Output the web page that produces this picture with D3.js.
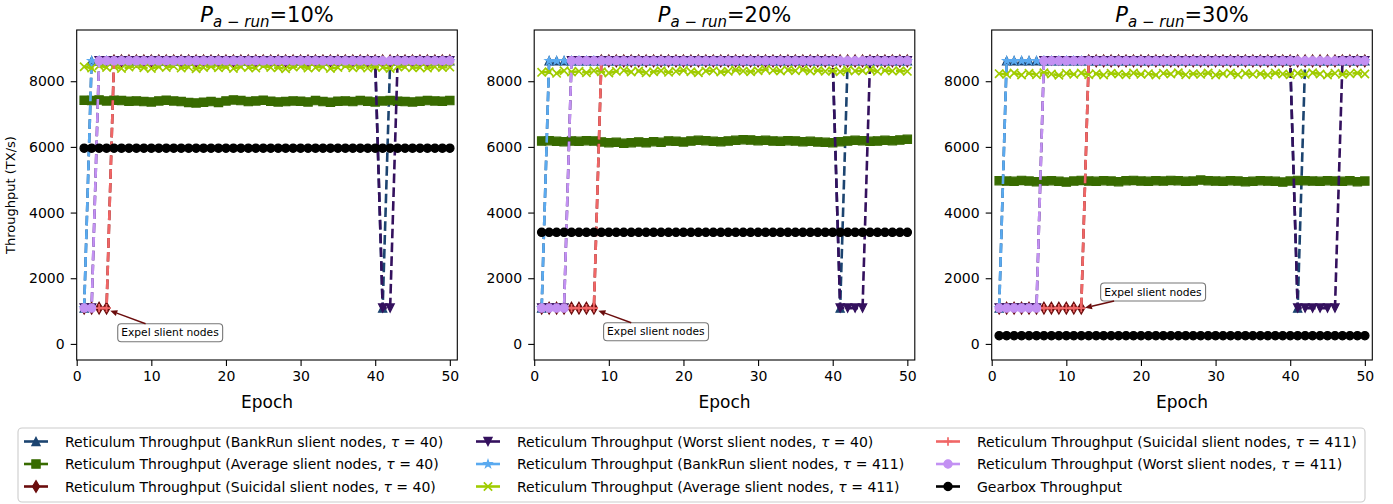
<!DOCTYPE html>
<html><head><meta charset="utf-8">
<script src="https://cdn.jsdelivr.net/npm/d3@7"></script>
<style>body{margin:0;background:#fff;} svg{display:block;font-family:"DejaVu Sans",sans-serif;}</style>
</head><body><svg id="c" width="1393" height="504"></svg>
<script>
// ---------------- DATA ----------------
const H = 8620, L = 1090;
const epochs = [1,2,3,4,5,6,7,8,9,10,11,12,13,14,15,16,17,18,19,20,21,22,23,24,25,26,27,28,29,30,31,32,33,34,35,36,37,38,39,40,41,42,43,44,45,46,47,48,49,50];
const panelTitles = ["10%", "20%", "30%"];
const xTicks = [0,10,20,30,40,50];
const yTicks = [0,2000,4000,6000,8000];
const seriesLabels = [
  ["BankRun", "40"], ["Average", "40"], ["Suicidal", "40"],
  ["Worst", "40"], ["BankRun", "411"], ["Average", "411"],
  ["Suicidal", "411"], ["Worst", "411"], null
];

// P = 10%
const bankrun40_10 = [L,H,H,H,H,H,H,H,H,H, H,H,H,H,H,H,H,H,H,H, H,H,H,H,H,H,H,H,H,H, H,H,H,H,H,H,H,H,H,H, L,H,H,H,H,H,H,H,H,H];
const avg40_10 = [7420,7410,7430,7400,7420,7410,7390,7400,7380,7370,7400,7420,7400,7380,7350,7340,7360,7380,7350,7400,7430,7410,7380,7400,7420,7390,7370,7380,7400,7390,7370,7410,7380,7360,7390,7400,7380,7410,7390,7370,7400,7410,7390,7380,7370,7390,7410,7400,7390,7410];
const suicidal40_10 = [L,L,L,L,H,H,H,H,H,H, H,H,H,H,H,H,H,H,H,H, H,H,H,H,H,H,H,H,H,H, H,H,H,H,H,H,H,H,H,H, H,H,H,H,H,H,H,H,H,H];
const worst40_10 = [L,L,H,H,H,H,H,H,H,H, H,H,H,H,H,H,H,H,H,H, H,H,H,H,H,H,H,H,H,H, H,H,H,H,H,H,H,H,H,H, L,L,H,H,H,H,H,H,H,H];
const bankrun411_10 = [L,H,H,H,H,H,H,H,H,H, H,H,H,H,H,H,H,H,H,H, H,H,H,H,H,H,H,H,H,H, H,H,H,H,H,H,H,H,H,H, H,H,H,H,H,H,H,H,H,H];
const avg411_10 = [8440,8400,8470,8420,8450,8390,8430,8460,8410,8390,8440,8420,8460,8400,8430,8380,8420,8450,8410,8430,8390,8440,8420,8400,8460,8420,8410,8380,8430,8450,8400,8420,8440,8390,8420,8460,8410,8430,8400,8440,8420,8390,8450,8430,8410,8420,8400,8440,8420,8430];
const suicidal411_10 = [L,L,L,L,H,H,H,H,H,H, H,H,H,H,H,H,H,H,H,H, H,H,H,H,H,H,H,H,H,H, H,H,H,H,H,H,H,H,H,H, H,H,H,H,H,H,H,H,H,H];
const worst411_10 = [L,L,H,H,H,H,H,H,H,H, H,H,H,H,H,H,H,H,H,H, H,H,H,H,H,H,H,H,H,H, H,H,H,H,H,H,H,H,H,H, H,H,H,H,H,H,H,H,H,H];
const gearbox_10 = [5960,5960,5960,5960,5960,5960,5960,5960,5960,5960, 5960,5960,5960,5960,5960,5960,5960,5960,5960,5960, 5960,5960,5960,5960,5960,5960,5960,5960,5960,5960, 5960,5960,5960,5960,5960,5960,5960,5960,5960,5960, 5960,5960,5960,5960,5960,5960,5960,5960,5960,5960];

// P = 20%
const bankrun40_20 = [L,H,H,H,H,H,H,H,H,H, H,H,H,H,H,H,H,H,H,H, H,H,H,H,H,H,H,H,H,H, H,H,H,H,H,H,H,H,H,H, L,H,H,H,H,H,H,H,H,H];
const avg40_20 = [6180,6190,6170,6160,6180,6170,6190,6180,6150,6130,6140,6110,6130,6150,6130,6160,6140,6180,6170,6150,6180,6200,6190,6170,6160,6180,6200,6220,6210,6190,6200,6180,6170,6190,6180,6160,6170,6150,6140,6130,6160,6180,6200,6190,6170,6180,6200,6190,6210,6230];
const suicidal40_20 = [L,L,L,L,L,L,L,L,H,H, H,H,H,H,H,H,H,H,H,H, H,H,H,H,H,H,H,H,H,H, H,H,H,H,H,H,H,H,H,H, H,H,H,H,H,H,H,H,H,H];
const worst40_20 = [L,L,L,L,H,H,H,H,H,H, H,H,H,H,H,H,H,H,H,H, H,H,H,H,H,H,H,H,H,H, H,H,H,H,H,H,H,H,H,H, L,L,L,L,H,H,H,H,H,H];
const bankrun411_20 = [L,H,H,H,H,H,H,H,H,H, H,H,H,H,H,H,H,H,H,H, H,H,H,H,H,H,H,H,H,H, H,H,H,H,H,H,H,H,H,H, H,H,H,H,H,H,H,H,H,H];
const avg411_20 = [8270,8290,8240,8320,8280,8300,8260,8320,8290,8250,8300,8330,8280,8310,8260,8290,8320,8270,8300,8330,8290,8260,8310,8320,8280,8300,8340,8310,8290,8320,8360,8330,8310,8340,8320,8350,8310,8330,8300,8320,8290,8340,8310,8320,8350,8300,8330,8310,8320,8300];
const suicidal411_20 = [L,L,L,L,L,L,L,L,H,H, H,H,H,H,H,H,H,H,H,H, H,H,H,H,H,H,H,H,H,H, H,H,H,H,H,H,H,H,H,H, H,H,H,H,H,H,H,H,H,H];
const worst411_20 = [L,L,L,L,H,H,H,H,H,H, H,H,H,H,H,H,H,H,H,H, H,H,H,H,H,H,H,H,H,H, H,H,H,H,H,H,H,H,H,H, H,H,H,H,H,H,H,H,H,H];
const gearbox_20 = [3400,3400,3400,3400,3400,3400,3400,3400,3400,3400, 3400,3400,3400,3400,3400,3400,3400,3400,3400,3400, 3400,3400,3400,3400,3400,3400,3400,3400,3400,3400, 3400,3400,3400,3400,3400,3400,3400,3400,3400,3400, 3400,3400,3400,3400,3400,3400,3400,3400,3400,3400];

// P = 30%
const bankrun40_30 = [L,H,H,H,H,H,H,H,H,H, H,H,H,H,H,H,H,H,H,H, H,H,H,H,H,H,H,H,H,H, H,H,H,H,H,H,H,H,H,H, L,H,H,H,H,H,H,H,H,H];
const avg40_30 = [4970,4960,4950,4980,4960,4940,4960,4970,4950,4930,4960,4980,4960,4950,4970,4960,4940,4970,4980,4960,4950,4970,4960,4980,4970,4950,4960,4990,4970,4960,4950,4970,4960,4940,4950,4970,4960,4950,4930,4960,4980,4970,4960,4950,4970,4960,4950,4970,4940,4960];
const suicidal40_30 = [L,L,L,L,L,L,L,L,L,L, L,L,H,H,H,H,H,H,H,H, H,H,H,H,H,H,H,H,H,H, H,H,H,H,H,H,H,H,H,H, H,H,H,H,H,H,H,H,H,H];
const worst40_30 = [L,L,L,L,L,L,H,H,H,H, H,H,H,H,H,H,H,H,H,H, H,H,H,H,H,H,H,H,H,H, H,H,H,H,H,H,H,H,H,H, L,L,L,L,L,L,H,H,H,H];
const bankrun411_30 = [L,H,H,H,H,H,H,H,H,H, H,H,H,H,H,H,H,H,H,H, H,H,H,H,H,H,H,H,H,H, H,H,H,H,H,H,H,H,H,H, H,H,H,H,H,H,H,H,H,H];
const avg411_30 = [8230,8210,8250,8190,8240,8200,8260,8220,8180,8240,8210,8250,8200,8230,8190,8240,8220,8200,8250,8210,8230,8190,8240,8220,8260,8200,8230,8210,8250,8190,8230,8250,8200,8240,8210,8230,8190,8250,8220,8200,8240,8210,8260,8220,8190,8240,8210,8230,8250,8220];
const suicidal411_30 = [L,L,L,L,L,L,L,L,L,L, L,L,H,H,H,H,H,H,H,H, H,H,H,H,H,H,H,H,H,H, H,H,H,H,H,H,H,H,H,H, H,H,H,H,H,H,H,H,H,H];
const worst411_30 = [L,L,L,L,L,L,H,H,H,H, H,H,H,H,H,H,H,H,H,H, H,H,H,H,H,H,H,H,H,H, H,H,H,H,H,H,H,H,H,H, H,H,H,H,H,H,H,H,H,H];
const gearbox_30 = [250,250,250,250,250,250,250,250,250,250, 250,250,250,250,250,250,250,250,250,250, 250,250,250,250,250,250,250,250,250,250, 250,250,250,250,250,250,250,250,250,250, 250,250,250,250,250,250,250,250,250,250];

const panelSeries = [
  [bankrun40_10, avg40_10, suicidal40_10, worst40_10, bankrun411_10, avg411_10, suicidal411_10, worst411_10, gearbox_10],
  [bankrun40_20, avg40_20, suicidal40_20, worst40_20, bankrun411_20, avg411_20, suicidal411_20, worst411_20, gearbox_20],
  [bankrun40_30, avg40_30, suicidal40_30, worst40_30, bankrun411_30, avg411_30, suicidal411_30, worst411_30, gearbox_30]
];
// annotation: arrow target and text centre (data coords)
const annotTarget = [[4.5, 1010], [8.6, 1010], [12.5, 1100]];
const annotText = [[12.5, 340], [16.3, 370], [21.6, 1580]];
const annotLabel = "Expel slient nodes";

// ---------------- STYLE ----------------
const colors = ["#1c4470", "#386b00", "#6b0d0d", "#34115e", "#5aaaf0", "#a0cc00", "#f06666", "#c391f3", "#000000"];
const markers = ["tri_up", "square", "thin_diamond", "tri_down", "star", "x", "plus", "circle", "circle"];
const dashed = [true, true, true, true, true, true, true, true, false];
const MS = 8.3, LW = 2.6;

const svg = d3.select("#c");
const panelLeft = [76.7, 534.2, 991.7];
const PW = 380.6, PT = 30, PB = 360;

function markerPath(type, ms) {
  const r = ms / 2;
  switch (type) {
    case "tri_up": return `M0,${-r}L${-r},${r}L${r},${r}Z`;
    case "tri_down": return `M0,${r}L${-r},${-r}L${r},${-r}Z`;
    case "square": return `M${-r},${-r}h${ms}v${ms}h${-ms}Z`;
    case "thin_diamond": { const hw = 0.424 * ms, hh = 0.707 * ms; return `M0,${-hh}L${hw},0L0,${hh}L${-hw},0Z`; }
    case "star": {
      let p = "";
      for (let i = 0; i < 10; i++) {
        const rr = i % 2 === 0 ? r : r * 0.382;
        const a = -Math.PI / 2 + i * Math.PI / 5;
        p += (i ? "L" : "M") + (rr * Math.cos(a)).toFixed(2) + "," + (rr * Math.sin(a)).toFixed(2);
      }
      return p + "Z";
    }
    case "x": return `M${-r},${-r}L${r},${r}M${-r},${r}L${r},${-r}`;
    case "plus": return `M${-r},0H${r}M0,${-r}V${r}`;
    default: return `M${r},0A${r},${r} 0 1,1 ${-r},0A${r},${r} 0 1,1 ${r},0Z`;
  }
}
const strokeOnly = t => t === "x" || t === "plus";

function drawMarker(g, type, color, cx, cy) {
  const p = g.append("path").attr("d", markerPath(type, MS)).attr("transform", `translate(${cx},${cy})`);
  if (strokeOnly(type)) p.attr("fill", "none").attr("stroke", color).attr("stroke-width", 1.7);
  else p.attr("fill", color).attr("stroke", color).attr("stroke-width", 1.2);
}

panelSeries.forEach((series, pi) => {
  const x0 = panelLeft[pi];
  const x = d3.scaleLinear().domain([0, 51]).range([x0, x0 + PW]);
  const y = d3.scaleLinear().domain([-490, 9560]).range([PB, PT]);
  const g = svg.append("g");

  const clipId = "clip" + pi;
  svg.append("clipPath").attr("id", clipId).append("rect")
    .attr("x", x0).attr("y", PT).attr("width", PW).attr("height", PB - PT);
  const plot = g.append("g").attr("clip-path", `url(#${clipId})`);

  const line = d3.line().x((d, i) => x(epochs[i])).y(d => y(d));
  series.forEach((vals, si) => {
    plot.append("path").attr("d", line(vals)).attr("fill", "none")
      .attr("stroke", colors[si]).attr("stroke-width", LW)
      .attr("stroke-dasharray", dashed[si] ? "9.6,4.2" : null);
    const mg = plot.append("g");
    vals.forEach((v, i) => drawMarker(mg, markers[si], colors[si], x(epochs[i]), y(v)));
  });

  // axes
  const ax = g.append("g").attr("transform", `translate(0,${PB})`)
    .call(d3.axisBottom(x).tickValues(xTicks).tickSize(6).tickPadding(5).tickFormat(d3.format("d")));
  const ay = g.append("g").attr("transform", `translate(${x0},0)`)
    .call(d3.axisLeft(y).tickValues(yTicks).tickSize(6).tickPadding(6).tickFormat(d3.format("d")));
  [ax, ay].forEach(a => {
    a.select(".domain").remove();
    a.selectAll("text").attr("font-size", 14).attr("font-family", "DejaVu Sans").attr("fill", "#000");
    a.selectAll("line").attr("stroke", "#000").attr("stroke-width", 1.1);
  });
  g.append("rect").attr("x", x0).attr("y", PT).attr("width", PW).attr("height", PB - PT)
    .attr("fill", "none").attr("stroke", "#000").attr("stroke-width", 1.1);

  // x label
  g.append("text").attr("x", x0 + PW / 2).attr("y", 408).attr("text-anchor", "middle")
    .attr("font-size", 17).text("Epoch");

  // title
  const t = g.append("text").attr("x", x0 + PW / 2).attr("y", 22).attr("text-anchor", "middle").attr("font-size", 21);
  t.append("tspan").attr("font-style", "italic").text("P");
  t.append("tspan").attr("font-style", "italic").attr("font-size", 15).attr("dy", 5).text("a \u2212 run");
  t.append("tspan").attr("dy", -5).text("=" + panelTitles[pi]);

  // annotation
  const [tx, ty] = annotTarget[pi];
  const [cx, cy] = annotText[pi];
  const px = x(cx), py = y(cy);
  const at = g.append("text").attr("x", px).attr("y", py).attr("text-anchor", "middle")
    .attr("dominant-baseline", "central").attr("font-size", 10.7).text(annotLabel);
  const bb = at.node().getBBox();
  const padX = 3.5, padY = 2.5;
  const bx0 = bb.x - padX, by0 = bb.y - padY, bw = bb.width + 2 * padX, bh = bb.height + 2 * padY;
  g.insert("rect", () => at.node()).attr("x", bx0).attr("y", by0).attr("width", bw).attr("height", bh)
    .attr("rx", 3.5).attr("fill", "#fff").attr("stroke", "#777").attr("stroke-width", 1.1);
  const ex = x(tx), ey = y(ty);
  const dx = ex - px, dy = ey - py;
  const tt = Math.min(Math.abs((bw / 2) / dx), Math.abs((bh / 2) / dy));
  const sx = px + dx * tt, sy = py + dy * tt;
  const ang = Math.atan2(ey - sy, ex - sx);
  const hl = 7, hw = 3;
  const bxh = ex - hl * Math.cos(ang), byh = ey - hl * Math.sin(ang);
  g.append("line").attr("x1", sx).attr("y1", sy).attr("x2", bxh).attr("y2", byh)
    .attr("stroke", colors[2]).attr("stroke-width", 1.4);
  g.append("path").attr("d",
    `M${ex},${ey}L${bxh + hw * Math.sin(ang)},${byh - hw * Math.cos(ang)}L${bxh - hw * Math.sin(ang)},${byh + hw * Math.cos(ang)}Z`)
    .attr("fill", colors[2]);
});

// y label
svg.append("text").attr("transform", `translate(15,${(PT + PB) / 2}) rotate(-90)`)
  .attr("text-anchor", "middle").attr("font-size", 13).text("Throughput (TX/s)");

// legend
const lg = svg.append("g");
lg.append("rect").attr("x", 18).attr("y", 428).attr("width", 1347).attr("height", 74).attr("rx", 4)
  .attr("fill", "#fff").attr("stroke", "#cccccc").attr("stroke-width", 1.1);
const colX = [24, 476, 936];
const rowY = [441.5, 464, 486.5];
seriesLabels.forEach((lab, i) => {
  const c = Math.floor(i / 3), r = i % 3;
  const hx = colX[c], hy = rowY[r];
  lg.append("line").attr("x1", hx).attr("x2", hx + 24).attr("y1", hy).attr("y2", hy)
    .attr("stroke", colors[i]).attr("stroke-width", LW);
  drawMarker(lg, markers[i], colors[i], hx + 12, hy);
  const tx = lg.append("text").attr("x", hx + 41).attr("y", hy).attr("dominant-baseline", "central").attr("font-size", 14);
  if (lab) {
    tx.append("tspan").text(`Reticulum Throughput (${lab[0]} slient nodes, `);
    tx.append("tspan").attr("font-style", "italic").text("\u03c4");
    tx.append("tspan").text(" = " + lab[1] + ")");
  } else {
    tx.text("Gearbox Throughput");
  }
});
</script></body></html>
